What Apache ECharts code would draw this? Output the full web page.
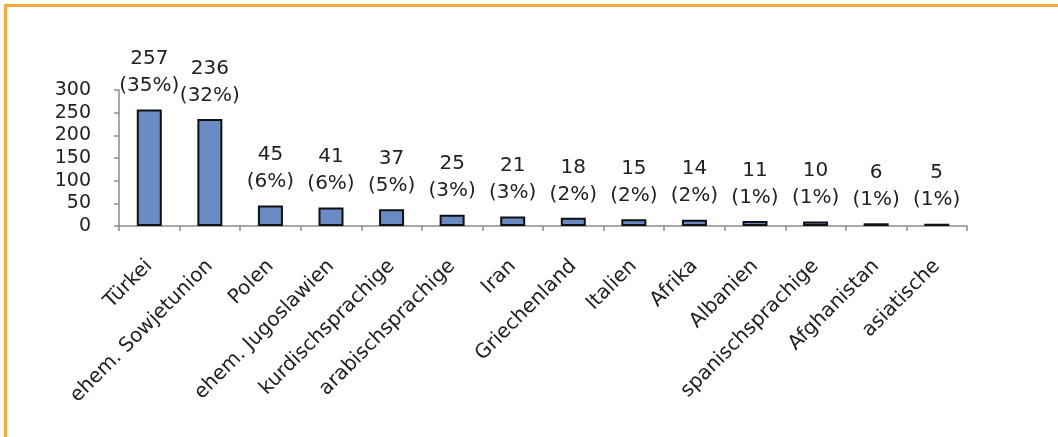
<!DOCTYPE html>
<html>
<head>
<meta charset="utf-8">
<script src="https://cdn.jsdelivr.net/npm/echarts@6/dist/echarts.min.js"></script>
<style>
html,body{margin:0;padding:0;background:#fff;}
#frame{position:absolute;left:4px;top:4px;width:1054px;height:433px;border-top:3px solid #f8a63e;border-left:3px solid #f8a63e;box-sizing:border-box;}
#chart{position:absolute;left:0;top:0;width:1058px;height:437px;}
</style>
</head>
<body>
<div id="frame"></div>
<div id="chart"></div>
<script>
const categories = ["Türkei","ehem. Sowjetunion","Polen","ehem. Jugoslawien","kurdischsprachige","arabischsprachige","Iran","Griechenland","Italien","Afrika","Albanien","spanischsprachige","Afghanistan","asiatische"];
const values = [257,236,45,41,37,25,21,18,15,14,11,10,6,5];
const percents = ["35%","32%","6%","6%","5%","3%","3%","2%","2%","2%","1%","1%","1%","1%"];
const yTicks = [0,50,100,150,200,250,300];

const chart = echarts.init(document.getElementById('chart'), null, {renderer:'canvas'});
const font = 'DejaVu Sans';
chart.setOption({
  animation:false,
  grid:{left:119,right:91,top:90,bottom:211,containLabel:false},
  xAxis:{
    type:'category',
    data:categories,
    axisLine:{show:true,lineStyle:{color:'#8c8c8c',width:1.5}},
    axisTick:{show:true,length:5,lineStyle:{color:'#8c8c8c',width:1.5}},
    axisLabel:{rotate:45,interval:0,margin:37,color:'#222',fontFamily:font,fontSize:20}
  },
  yAxis:{
    type:'value',
    min:yTicks[0],max:yTicks[yTicks.length-1],interval:50,
    axisLine:{show:true,lineStyle:{color:'#8c8c8c',width:1.5}},
    axisTick:{show:true,length:5,lineStyle:{color:'#8c8c8c',width:1.5}},
    splitLine:{show:false},
    axisLabel:{margin:28,color:'#222',fontFamily:font,fontSize:19,lineHeight:19}
  },
  series:[{
    type:'bar',
    data:values,
    barWidth:25,
    itemStyle:{color:'#6a8ac4',borderColor:'#111',borderWidth:2},
    label:{
      show:true,position:'top',distance:10,
      fontFamily:font,fontSize:20,lineHeight:27,color:'#222',
      formatter:function(p){return p.value+'\n('+percents[p.dataIndex]+')';}
    }
  }]
});
</script>
</body>
</html>
